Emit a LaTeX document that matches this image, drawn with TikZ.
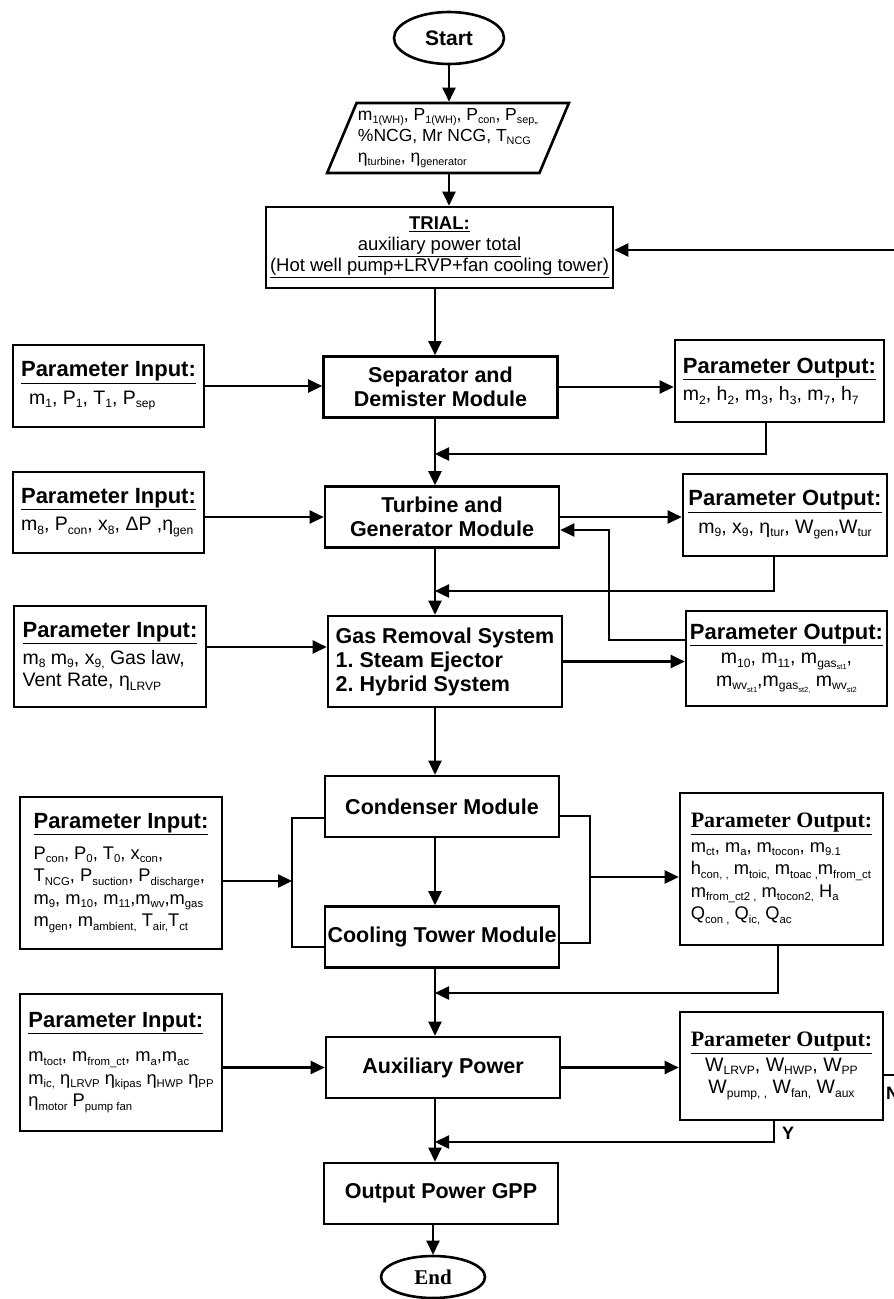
\documentclass[tikz,border=0pt]{standalone}
\usepackage{fontspec}
\setmainfont{Liberation Sans}
\newfontfamily\serifhead{Liberation Serif}
\usetikzlibrary{shapes.geometric,arrows.meta}

\makeatletter
\newcommand{\lo}[1]{\raisebox{-0.35ex}{\fontsize{\strip@pt\dimexpr0.62\dimexpr\f@size pt\relax\relax}{0}\selectfont #1}}
\makeatother
\newcommand{\inhead}{{\fontsize{22}{26}\selectfont\bfseries\underline{Parameter Input:}}}
\newcommand{\outhead}{{\fontsize{22}{26}\selectfont\bfseries\underline{Parameter Output:}}}
\newcommand{\outheadserif}{{\serifhead\fontsize{22}{26}\selectfont\bfseries\underline{Parameter Output:}}}
\frenchspacing

\begin{document}
\begin{tikzpicture}[
    x=1pt, y=-1pt,
    terminal/.style={
        ellipse,
        draw,
        line width=2.6pt,
        inner sep=0pt,
        font=\fontsize{21}{24}\selectfont\bfseries
    },
    data box/.style={
        trapezium,
        trapezium left angle=64,
        trapezium right angle=116,
        trapezium stretches=true,
        draw,
        line width=2.6pt,
        inner sep=0pt,
        align=left,
        font=\fontsize{17.5}{21}\selectfont
    },
    module box/.style={
        rectangle,
        draw,
        line width=2.6pt,
        minimum width=234,
        minimum height=61,
        inner sep=0pt,
        align=center,
        font=\fontsize{21.5}{24}\selectfont\bfseries
    },
    param box/.style={
        rectangle,
        draw,
        line width=2.6pt,
        inner sep=0pt,
        align=left,
        font=\fontsize{19.5}{22.5}\selectfont
    },
    long list/.style={
        font=\fontsize{18.3}{22.5}\selectfont
    },
    flow/.style={
        -{Triangle[length=14pt,width=13pt]},
        line width=2.4pt
    },
    link/.style={
        line width=2.4pt
    },
    answer/.style={
        inner sep=0pt,
        font=\fontsize{18}{20}\selectfont\bfseries
    }
]

\useasboundingbox (0,0) rectangle (894,1299);

\def\mainx{435}

%% --- Start and data ---
\node[terminal, minimum width=110, minimum height=52] (start) at (449,38) {Start};
\node[data box, minimum width=242, minimum height=70] (data) at (448,138)
    {m\lo{1(WH)}, P\lo{1(WH)}, P\lo{con}, P\lo{sep,,}\\
     \%NCG, Mr NCG, T\lo{NCG}\\
     η\lo{turbine}, η\lo{generator}};

%% --- Trial ---
\node[rectangle, draw, line width=2.6pt, minimum width=347, minimum height=81,
      align=center, font=\fontsize{18.5}{21}\selectfont] (trial) at (439.5,247.5)
    {\textbf{\underline{TRIAL:}}\\
     \underline{auxiliary power total}\\
     \underline{(Hot well pump+LRVP+fan cooling tower)}};

%% --- Modules ---
\node[module box] (sep)   at (440.5,387)  {Separator and\\Demister Module};
\node[module box] (turb)  at (442,517)    {Turbine and\\Generator Module};
\node[module box, minimum height=91, align=left] (gas) at (445,661.5)
    {Gas Removal System\\1. Steam Ejector\\2. Hybrid System};
\node[module box] (cond)  at (442,806.5)  {Condenser Module};
\node[module box] (tower) at (442,937)    {Cooling Tower Module};
\node[module box] (aux)   at (443,1067.5) {Auxiliary Power};
\node[module box] (gpp)   at (441,1193.5) {Output Power GPP};
\node[terminal, minimum width=104, minimum height=42,
      font=\serifhead\fontsize{21}{24}\selectfont\bfseries] (finish) at (433,1277) {End};

%% --- Parameter inputs ---
\node[param box, minimum width=191, minimum height=82] (in1) at (108.5,386)
    {\inhead\\[5pt]\hspace{8pt}m\lo{1}, P\lo{1}, T\lo{1}, P\lo{sep}};
\node[param box, minimum width=191, minimum height=81] (in2) at (108.5,512.5)
    {\inhead\\[5pt]m\lo{8}, P\lo{con}, x\lo{8}, ΔP ,η\lo{gen}};
\node[param box, minimum width=192, minimum height=101] (in3) at (110,656.5)
    {\inhead\\[4pt]m\lo{8} m\lo{9}, x\lo{9,} Gas law,\\Vent Rate, η\lo{LRVP}};
\node[param box, long list, minimum width=202, minimum height=152] (in4) at (121,873)
    {\inhead\\[8pt]P\lo{con}, P\lo{0}, T\lo{0}, x\lo{con},\\
     T\lo{NCG}, P\lo{suction}, P\lo{discharge},\\
     m\lo{9}, m\lo{10}, m\lo{11},m\lo{wv},m\lo{gas}\\
     m\lo{gen}, m\lo{ambient,} T\lo{air,}T\lo{ct}};
\node[param box, long list, minimum width=202, minimum height=137] (in5) at (121,1062.5)
    {\inhead\\[12pt]m\lo{toct}, m\lo{from\_ct}, m\lo{a},m\lo{ac}\\
     m\lo{ic,} η\lo{LRVP} η\lo{kipas} η\lo{HWP} η\lo{PP}\\
     η\lo{motor} P\lo{pump fan}};

%% --- Parameter outputs ---
\node[param box, minimum width=209, minimum height=82] (out1) at (779.5,381)
    {\outhead\\[5pt]m\lo{2}, h\lo{2}, m\lo{3}, h\lo{3}, m\lo{7}, h\lo{7}};
\node[param box, minimum width=204, minimum height=82, align=center] (out2) at (785,515)
    {\outhead\\[5pt]m\lo{9}, x\lo{9}, η\lo{tur}, W\lo{gen},W\lo{tur}};
\node[param box, minimum width=201, minimum height=95, align=center] (out3) at (786.5,658.5)
    {\outhead\\[2pt]m\lo{10}, m\lo{11}, m\lo{gas\lo{st1}},\\
     m\lo{wv\lo{st1}},m\lo{gas\lo{st2,}} m\lo{wv\lo{st2}}};
\node[param box, long list, minimum width=203, minimum height=152] (out4) at (781.5,869)
    {\outheadserif\\[2pt]m\lo{ct}, m\lo{a}, m\lo{tocon}, m\lo{9.1}\\
     h\lo{con, ,} m\lo{toic,} m\lo{toac ,}m\lo{from\_ct}\\
     m\lo{from\_ct2 ,} m\lo{tocon2,} H\lo{a}\\
     Q\lo{con ,} Q\lo{ic,} Q\lo{ac}};
\node[param box, minimum width=203, minimum height=108, align=center] (out5) at (781.5,1066)
    {\outheadserif\\[2pt]W\lo{LRVP}, W\lo{HWP}, W\lo{PP}\\
     W\lo{pump, ,} W\lo{fan,} W\lo{aux}};

%% --- Junctions ---
\coordinate (j1) at (\mainx,454);
\coordinate (j2) at (\mainx,591);
\coordinate (j3) at (\mainx,993);
\coordinate (j4) at (\mainx,1142);
\coordinate (fb) at (609,530);
\coordinate (g3) at (\mainx,647);
\coordinate (lb) at (292,881);
\coordinate (rb) at (590,877);
\coordinate (nr) at (898,250);

%% --- Main line ---
\draw[flow] (start.south) -- (start.south |- data.north);
\draw[flow] (data.south -| start.south) -- (trial.north -| start.south);
\draw[flow] (trial.south -| j1) -- (sep.north -| j1);
\draw[flow] (sep.south -| j1) -- (turb.north -| j1);
\draw[flow] (turb.south -| j1) -- (gas.north -| j1);
\draw[flow] (gas.south -| j1) -- (cond.north -| j1);
\draw[flow] (cond.south -| j1) -- (tower.north -| j1);
\draw[flow] (tower.south -| j1) -- (aux.north -| j1);
\draw[flow] (aux.south -| j1) -- (gpp.north -| j1);
\draw[flow] (gpp.south -| finish) -- (finish.north);

%% --- Inputs -> modules ---
\draw[flow] (in1.east) -- (in1.east -| sep.west);
\draw[flow] (in2.east |- turb.west) -- (turb.west);
\draw[flow] (in3.east |- g3) -- (gas.west |- g3);
\draw[flow] (in4.east |- lb) -- (lb);
\draw[flow] (in5.east |- aux.west) -- (aux.west);

%% --- Modules -> outputs ---
\draw[flow] (sep.east) -- (sep.east -| out1.west);
\draw[flow] (turb.east) -- (turb.east -| out2.west);
\draw[flow] (gas.east) -- (gas.east -| out3.west);
\draw[flow] (rb) -- (rb -| out4.west);
\draw[flow] (aux.east) -- (aux.east -| out5.west);

%% --- Condenser / cooling tower brackets ---
\draw[link] ([yshift=-11.5pt]cond.west) -| (lb) |- ([yshift=-10pt]tower.west);
\draw[link] ([yshift=-9.5pt]cond.east) -| (rb) |- ([yshift=-6pt]tower.east);

%% --- Outputs back to main line ---
\draw[flow] ([xshift=-13.5pt]out1.south) |- (j1);
\draw[flow] ([xshift=-11pt]out2.south) |- (j2);
\draw[flow] ([yshift=18.5pt]out3.west) -| (fb) -- (fb -| turb.east);
\draw[flow] ([xshift=-3.5pt]out4.south) |- (j3);
\draw[flow] ([xshift=-7.5pt]out5.south) |- (j4);
\draw[flow] ([yshift=-9pt]out5.east) -| (nr) -- (nr -| trial.east);

%% --- Decision labels ---
\node[answer] (ylab) at (788,1133) {Y};
\node[answer, anchor=west] (nlab) at (886,1093) {N};

\end{tikzpicture}
\end{document}
